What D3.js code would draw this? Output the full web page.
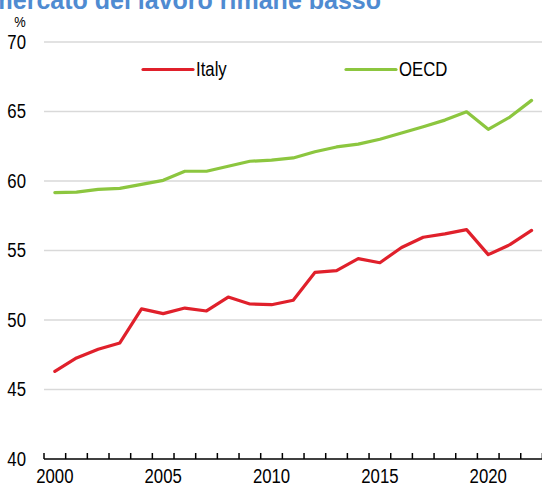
<!DOCTYPE html>
<html><head><meta charset="utf-8">
<script src="https://cdn.jsdelivr.net/npm/d3@7"></script>
<style>
body{margin:0;background:#fff;}
svg{display:block;}
text{font-family:"Liberation Sans",Arial,sans-serif;fill:#000;}
</style></head>
<body>
<svg id="c" width="542" height="484"></svg>
<script>
const years = d3.range(2000, 2023);
const italy = [46.3,47.27,47.9,48.35,50.8,50.46,50.86,50.65,51.65,51.15,51.1,51.42,53.42,53.55,54.42,54.12,55.22,55.95,56.2,56.5,54.7,55.42,56.45];
const oecd = [59.17,59.2,59.4,59.47,59.76,60.05,60.7,60.7,61.06,61.42,61.5,61.66,62.1,62.45,62.65,63.0,63.45,63.9,64.38,64.98,63.72,64.6,65.8];
const yTicks = [40,45,50,55,60,65,70];
const xLabels = [2000,2005,2010,2015,2020];
const seriesNames = ["Italy","OECD"];
const colors = ["#e0202b","#8cc63f"];
const titleText = "mercato del lavoro rimane basso";

const svg = d3.select("#c");
const pLeft = 44, pRight = 542, pTop = 42, pBottom = 459;
const x = d3.scaleBand().domain(years).range([pLeft, pLeft + 23*21.67]).paddingInner(0).paddingOuter(0);
const y = d3.scaleLinear().domain([40,70]).range([pBottom, pTop]);
const SQ = 0.86;
const tr = (tx, ty) => `translate(${tx},${ty}) scale(${SQ},1)`;

// title (clipped at top)
svg.append("text").attr("x", 381).attr("y", 8.5).attr("text-anchor","end")
  .style("font-weight","bold")
  .style("font-size","25px").style("fill","#4f8bd1").text(titleText);

// gridlines
svg.append("g").selectAll("line").data(yTicks.filter(d=>d>40)).join("line")
  .attr("x1", pLeft).attr("x2", pRight).attr("y1", d=>y(d)).attr("y2", d=>y(d))
  .attr("stroke","#d9d9d9").attr("stroke-width",1.5);

// y labels
svg.append("g").selectAll("text").data(yTicks).join("text")
  .attr("transform", d=>tr(26, y(d))).attr("dy","0.35em").attr("text-anchor","end")
  .style("font-size","19.5px").text(d=>d);
svg.append("text").attr("transform", tr(20, 22)).attr("dy","0.35em").attr("text-anchor","middle")
  .style("font-size","15px").text("%");

// x axis
svg.append("line").attr("x1", pLeft).attr("x2", pRight).attr("y1", pBottom).attr("y2", pBottom)
  .attr("stroke","#000").attr("stroke-width",1.5);
svg.append("g").selectAll("line").data(years.concat([2023])).join("line")
  .attr("x1", d=> d===2023 ? x(2022)+x.bandwidth() : x(d))
  .attr("x2", d=> d===2023 ? x(2022)+x.bandwidth() : x(d))
  .attr("y1", pBottom).attr("y2", pBottom-6).attr("stroke","#000").attr("stroke-width",1.5);
svg.append("g").selectAll("text").data(xLabels).join("text")
  .attr("transform", d=>tr(x(d)+x.bandwidth()/2, 476.5)).attr("dy","0.35em").attr("text-anchor","middle")
  .style("font-size","19.5px").text(d=>d);

// lines
const line = d3.line().x((d,i)=>x(years[i])+x.bandwidth()/2).y(d=>y(d));
[italy, oecd].forEach((s,i)=>{
  svg.append("path").datum(s).attr("d", line).attr("fill","none")
    .attr("stroke", colors[i]).attr("stroke-width",3.2).attr("stroke-linejoin","round").attr("stroke-linecap","round");
});

// legend
const legX = [143, 346];
seriesNames.forEach((n,i)=>{
  svg.append("line").attr("x1", legX[i]).attr("x2", legX[i]+50).attr("y1", 69.5).attr("y2", 69.5)
    .attr("stroke", colors[i]).attr("stroke-width",3.2).attr("stroke-linecap","round");
  svg.append("text").attr("transform", tr(legX[i]+53, 69.5)).attr("dy","0.35em")
    .style("font-size","19.5px").text(n);
});
</script>
</body></html>
